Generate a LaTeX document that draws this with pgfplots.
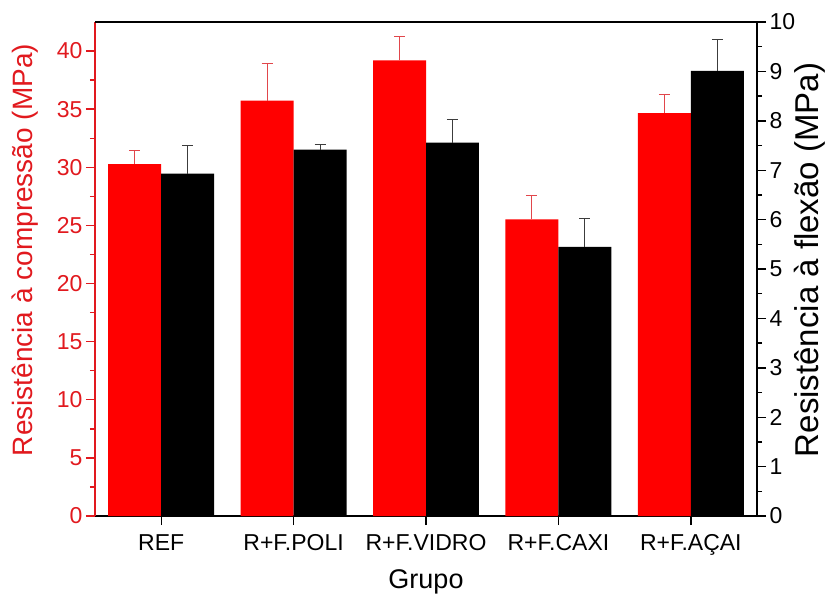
\documentclass[border=0pt]{standalone}
\usepackage{fontspec}
\setmainfont{Liberation Sans}
\usepackage{pgfplots}
\pgfplotsset{compat=1.18}
\definecolor{barred}{RGB}{255,0,0}
\definecolor{axred}{RGB}{225,25,30}
\definecolor{errred}{RGB}{225,70,75}
\definecolor{errblk}{RGB}{60,60,60}

\begin{document}
\begin{tikzpicture}[font=\fontsize{23}{27}\selectfont]
\pgfplotsset{
  common/.style={
    width=662pt, height=494pt, scale only axis,
    xmin=0.5, xmax=5.5,
    /pgf/number format/assume math mode=true,
    tick align=outside,
    major tick length=9pt, minor tick length=5pt,
    every tick/.style={line width=1.4pt},
    axis line style={line width=1.8pt},
    ybar, bar width=0.4,
  }
}
\begin{axis}[common, name=ax,
  ymin=0, ymax=42.5,
  axis x line*=bottom, axis y line*=left,
  y axis line style={draw=axred},
  ytick={0,5,...,40}, minor y tick num=1,
  y tick style={draw=axred},
  yticklabel style={text=axred},
  ylabel={Resistência à compressão (MPa)},
  ylabel style={text=axred, font=\fontsize{28}{32}\selectfont,
    at={(axis description cs:0,0.5)}, anchor=base, yshift=62pt, xshift=19pt},
  xtick={1,2,3,4,5},
  xticklabels={REF, R+F.POLI, R+F.VIDRO, R+F.CAXI, R+F.AÇAI},
  xticklabel style={yshift=-6pt},
  x tick style={draw=black},
  xlabel={Grupo},
  xlabel style={font=\fontsize{27}{31}\selectfont,
    at={(axis description cs:0.5,0)}, anchor=base, yshift=-72pt},
]
\addplot[fill=barred, draw=none,
  error bars/.cd, y dir=plus, y explicit,
  error bar style={draw=errred, line width=1pt},
  error mark options={rotate=90, mark size=5.5pt, line width=1pt, draw=errred}]
coordinates {
  (0.8,30.28) +- (0,1.18)
  (1.8,35.73) +- (0,3.24)
  (2.8,39.20) +- (0,2.07)
  (3.8,25.52) +- (0,2.09)
  (4.8,34.67) +- (0,1.63)
};
\end{axis}
\begin{axis}[common,
  ymin=0, ymax=10,
  axis x line*=top, axis y line*=right,
  xtick=\empty,
  ytick={0,1,...,10}, minor y tick num=1,
  ylabel={Resistência à flexão (MPa)},
  ylabel style={font=\fontsize{33}{37}\selectfont,
    at={(axis description cs:1,0.5)}, anchor=base, yshift=-61pt, xshift=9pt},
]
\addplot[fill=black, draw=none,
  error bars/.cd, y dir=plus, y explicit,
  error bar style={draw=errblk, line width=1pt},
  error mark options={rotate=90, mark size=5.5pt, line width=1pt, draw=errblk}]
coordinates {
  (1.2,6.93) +- (0,0.56)
  (2.2,7.415) +- (0,0.11)
  (3.2,7.56) +- (0,0.46)
  (4.2,5.45) +- (0,0.57)
  (5.2,9.01) +- (0,0.64)
};
\end{axis}
\path ([shift={(-95pt,-77pt)}]ax.south west) rectangle ([shift={(79pt,22pt)}]ax.north east);
\end{tikzpicture}
\end{document}
